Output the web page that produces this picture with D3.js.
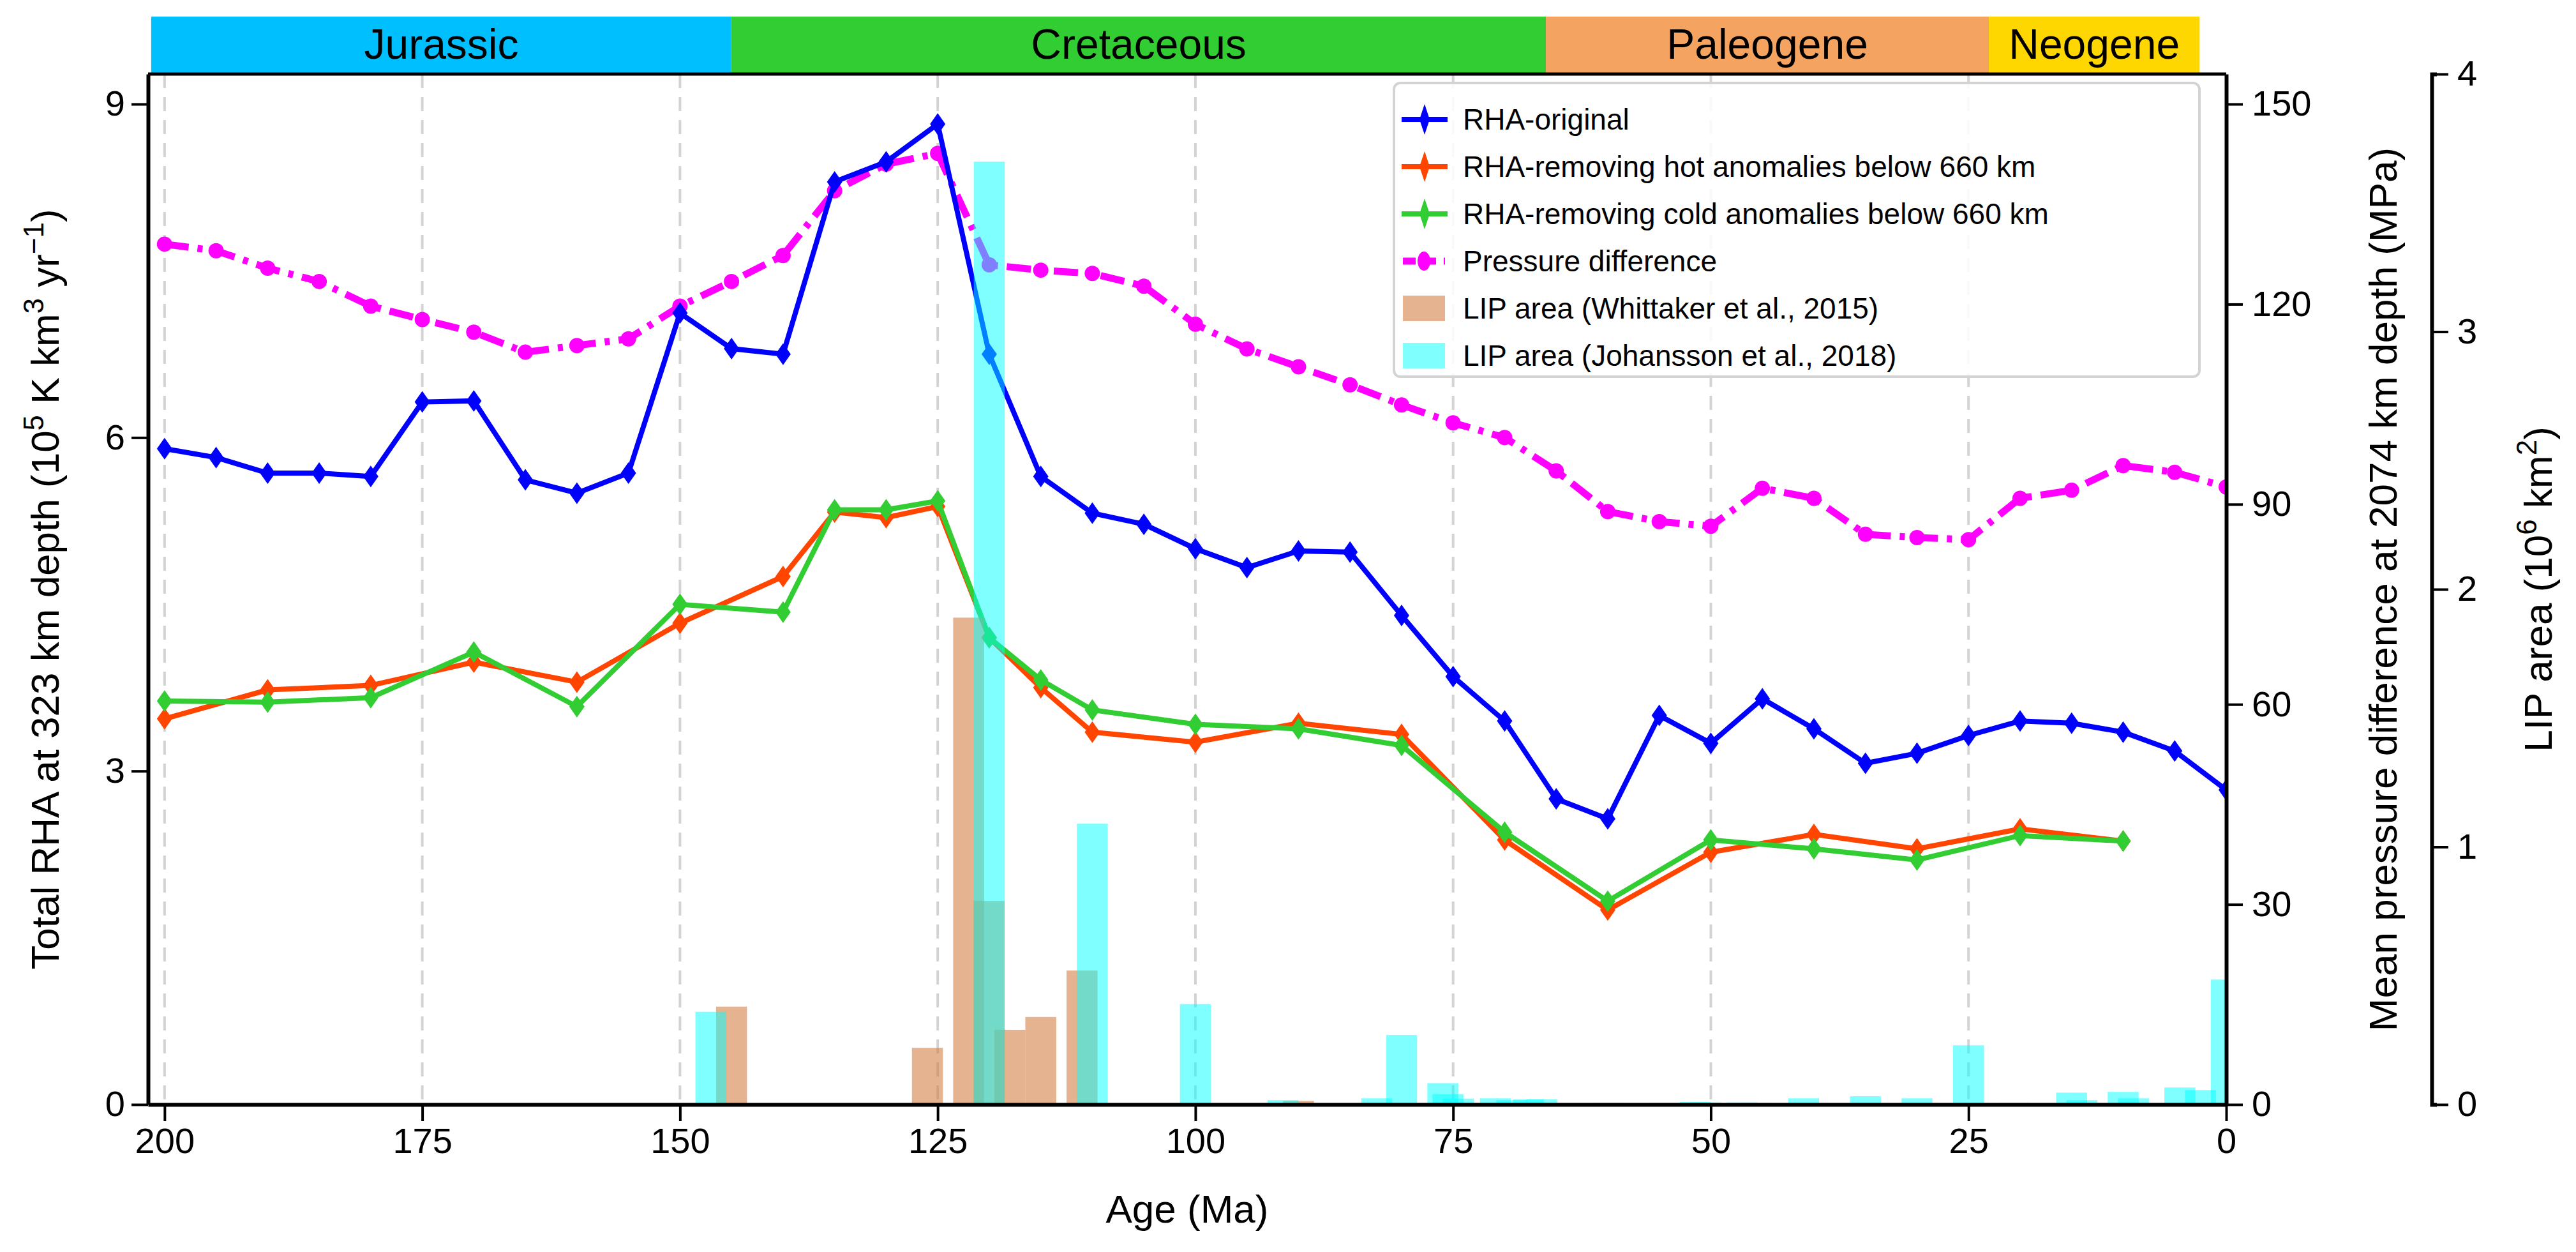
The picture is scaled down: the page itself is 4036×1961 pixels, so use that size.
<!DOCTYPE html>
<html><head><meta charset="utf-8">
<script src="https://cdn.jsdelivr.net/npm/d3@7"></script>
<style>
body{margin:0;background:#fff;}
text{font-family:"Liberation Sans",Arial,sans-serif;}
</style></head>
<body><svg id="chart" width="4036" height="1961"></svg>
<script>
var svg = d3.select("#chart");
// plot box in pixels
var marginLeft = 232, marginRight = 3488, marginTop = 116, marginBottom = 1730;
var lipAxisX = 3810;

// data
var ages = [200,195,190,185,180,175,170,165,160,155,150,145,140,135,130,125,120,115,110,105,100,95,90,85,80,75,70,65,60,55,50,45,40,35,30,25,20,15,10,5,0];
var rhaOriginal = [5.9,5.82,5.68,5.68,5.65,6.32,6.33,5.62,5.5,5.68,7.12,6.8,6.75,8.3,8.48,8.82,6.75,5.65,5.32,5.22,5.0,4.83,4.98,4.97,4.4,3.85,3.45,2.75,2.57,3.5,3.25,3.65,3.38,3.07,3.16,3.32,3.45,3.43,3.35,3.18,2.83];
var pressure = [129,128,125.4,123.4,119.7,117.7,115.8,112.8,113.8,114.8,119.7,123.4,127.3,137,141,142.6,125.9,125.1,124.6,122.7,117,113.3,110.6,107.9,104.9,102.2,100,95,88.9,87.4,86.7,92.4,90.9,85.5,85,84.7,90.9,92.1,95.8,94.8,92.6];
var agesRemoved = [200,190,180,170,160,150,140,135,130,125,120,115,110,100,90,80,70,60,50,40,30,20,10];
var rhaNoHot = [3.47,3.73,3.77,3.98,3.8,4.33,4.75,5.33,5.28,5.38,4.2,3.75,3.35,3.26,3.43,3.33,2.38,1.75,2.27,2.43,2.3,2.48,2.37];
var rhaNoCold = [3.63,3.62,3.66,4.07,3.58,4.5,4.43,5.35,5.35,5.43,4.2,3.82,3.55,3.42,3.38,3.23,2.45,1.83,2.38,2.3,2.2,2.42,2.37];
var lipWhitAges = [145,126,122,120,118,115,111,90];
var lipWhitArea = [0.38,0.22,1.89,0.79,0.29,0.34,0.52,0.014];
var lipJohAges = [147,120,110,100,91.5,82.4,80,76,75.5,74.5,70.9,69.3,67.7,66.4,60,54.5,51.5,50.5,47,45.5,41,35,30,25,20.5,15,14,10,9,4.5,2.5,0];
var lipJohArea = [0.36,3.66,1.09,0.39,0.017,0.024,0.27,0.083,0.04,0.023,0.024,0.017,0.02,0.02,0.006,0.006,0.01,0.008,0.008,0.006,0.024,0.032,0.024,0.23,0.006,0.046,0.017,0.049,0.024,0.066,0.056,0.485];
var periods = ["Jurassic","Cretaceous","Paleogene","Neogene"];
var periodStart = [201.3,145,66,23.03];
var periodEnd = [145,66,23.03,2.58];
var periodColors = ["#00BFFF","#32CD32","#F4A460","#FFD700"];
var xTicks = [200,175,150,125,100,75,50,25,0];

var x = d3.scaleLinear().domain([201.6,0]).range([marginLeft, marginRight]);
var yRha = d3.scaleLinear().domain([0,9.27]).range([marginBottom, marginTop]);
var yP = d3.scaleLinear().domain([0,154.5]).range([marginBottom, marginTop]);
var yLip = d3.scaleLinear().domain([0,4]).range([marginBottom, marginTop]);

svg.append("clipPath").attr("id","clip").append("rect")
  .attr("x",marginLeft).attr("y",marginTop).attr("width",marginRight-marginLeft).attr("height",marginBottom-marginTop);

// vertical dashed grid
svg.selectAll(".grid").data(xTicks.filter(function(d){return d>0;})).enter().append("line")
  .attr("x1",function(d){return x(d);}).attr("x2",function(d){return x(d);})
  .attr("y1",marginTop).attr("y2",marginBottom)
  .attr("stroke","#d3d3d3").attr("stroke-width",4).attr("stroke-dasharray","22,14");

// period bar
svg.selectAll(".period").data(periods).enter().append("rect")
  .attr("x",function(d,i){return x(periodStart[i]);})
  .attr("width",function(d,i){return x(periodEnd[i])-x(periodStart[i]);})
  .attr("y",26).attr("height",marginTop-26)
  .attr("fill",function(d,i){return periodColors[i];});
svg.selectAll(".periodLabel").data(periods).enter().append("text")
  .attr("x",function(d,i){return (x(periodStart[i])+x(periodEnd[i]))/2;})
  .attr("y",92).attr("text-anchor","middle").attr("font-size",66).text(function(d){return d;});

function diamondPath(cx,cy){ return "M"+cx+","+(cy-17)+"L"+(cx+12)+","+cy+"L"+cx+","+(cy+17)+"L"+(cx-12)+","+cy+"Z"; }

function drawSeries(xs, ys, scale, color, marker, dash){
  var g = svg.append("g").attr("clip-path","url(#clip)");
  var line = d3.line().x(function(d,i){return x(xs[i]);}).y(function(d){return scale(d);});
  g.append("path").datum(ys).attr("d",line).attr("fill","none")
    .attr("stroke",color).attr("stroke-width",dash?11:8).attr("stroke-dasharray",dash||null);
  if (marker=="diamond") {
    g.selectAll("path.m").data(ys).enter().append("path").attr("class","m")
      .attr("d",function(d,i){return diamondPath(x(xs[i]),scale(d));}).attr("fill",color);
  } else {
    g.selectAll("circle").data(ys).enter().append("circle")
      .attr("cx",function(d,i){return x(xs[i]);}).attr("cy",function(d){return scale(d);})
      .attr("r",12).attr("fill",color);
  }
}
drawSeries(ages, pressure, yP, "#FF00FF", "circle", "38,14,8,14");
drawSeries(ages, rhaOriginal, yRha, "#0000FF", "diamond");
drawSeries(agesRemoved, rhaNoHot, yRha, "#FF4500", "diamond");
drawSeries(agesRemoved, rhaNoCold, yRha, "#32CD32", "diamond");

// LIP bars (3 Myr wide)
var barG = svg.append("g").attr("clip-path","url(#clip)");
barG.selectAll(".whit").data(lipWhitArea).enter().append("rect")
  .attr("x",function(d,i){return x(lipWhitAges[i]+1.5);})
  .attr("width",function(d,i){return x(lipWhitAges[i]-1.5)-x(lipWhitAges[i]+1.5);})
  .attr("y",function(d){return yLip(d);}).attr("height",function(d){return marginBottom-yLip(d);})
  .attr("fill","rgb(214,128,70)").attr("fill-opacity",0.6);
barG.selectAll(".joh").data(lipJohArea).enter().append("rect")
  .attr("x",function(d,i){return x(lipJohAges[i]+1.5);})
  .attr("width",function(d,i){return x(lipJohAges[i]-1.5)-x(lipJohAges[i]+1.5);})
  .attr("y",function(d){return yLip(d);}).attr("height",function(d){return marginBottom-yLip(d);})
  .attr("fill","#00FFFF").attr("fill-opacity",0.5);

// axes
function styleAxis(g){
  g.selectAll("path").attr("stroke","#000").attr("stroke-width",6);
  g.selectAll("line").attr("stroke","#000").attr("stroke-width",4);
  g.selectAll("text").attr("font-size",56).attr("fill","#000");
}
svg.append("line").attr("x1",marginLeft).attr("x2",marginRight).attr("y1",marginTop).attr("y2",marginTop).attr("stroke","#000").attr("stroke-width",5);
svg.append("g").attr("transform","translate(0,"+marginBottom+")")
  .call(d3.axisBottom(x).tickValues(xTicks).tickSize(26).tickPadding(10).tickSizeOuter(0)).call(styleAxis);
svg.append("g").attr("transform","translate("+marginLeft+",0)")
  .call(d3.axisLeft(yRha).tickValues([0,3,6,9]).tickSize(26).tickPadding(10).tickSizeOuter(0)).call(styleAxis);
svg.append("g").attr("transform","translate("+marginRight+",0)")
  .call(d3.axisRight(yP).tickValues([0,30,60,90,120,150]).tickSize(26).tickPadding(14).tickSizeOuter(0)).call(styleAxis);
svg.append("g").attr("transform","translate("+lipAxisX+",0)")
  .call(d3.axisRight(yLip).tickValues([0,1,2,3,4]).tickFormat(d3.format("d")).tickSize(26).tickPadding(14).tickSizeOuter(8)).call(styleAxis);

// axis titles
svg.append("text").attr("x",(marginLeft+marginRight)/2).attr("y",1915).attr("text-anchor","middle").attr("font-size",62).text("Age (Ma)");
var lt = svg.append("text").attr("transform","translate(92,"+(marginTop+marginBottom)/2+") rotate(-90)")
  .attr("text-anchor","middle").attr("font-size",62);
lt.append("tspan").text("Total RHA at 323 km depth (10");
lt.append("tspan").attr("dy",-24).attr("font-size",44).text("5");
lt.append("tspan").attr("dy",24).text(" K km");
lt.append("tspan").attr("dy",-24).attr("font-size",44).text("3");
lt.append("tspan").attr("dy",24).text(" yr");
lt.append("tspan").attr("dy",-24).attr("font-size",44).text("\u22121");
lt.append("tspan").attr("dy",24).text(")");
svg.append("text").attr("transform","translate(3755,"+(marginTop+marginBottom)/2+") rotate(-90)")
  .attr("text-anchor","middle").attr("font-size",62).text("Mean pressure difference at 2074 km depth (MPa)");
var rt = svg.append("text").attr("transform","translate(3998,"+(marginTop+marginBottom)/2+") rotate(-90)")
  .attr("text-anchor","middle").attr("font-size",62);
rt.append("tspan").text("LIP area (10");
rt.append("tspan").attr("dy",-24).attr("font-size",44).text("6");
rt.append("tspan").attr("dy",24).text(" km");
rt.append("tspan").attr("dy",-24).attr("font-size",44).text("2");
rt.append("tspan").attr("dy",24).text(")");

// legend
var legendLabels = ["RHA-original","RHA-removing hot anomalies below 660 km","RHA-removing cold anomalies below 660 km","Pressure difference","LIP area (Whittaker et al., 2015)","LIP area (Johansson et al., 2018)"];
var legendColors = ["#0000FF","#FF4500","#32CD32","#FF00FF","rgb(230,179,144)","#80FFFF"];
var lg = svg.append("g").attr("transform","translate(2184,130)");
lg.append("rect").attr("width",1262).attr("height",460).attr("rx",10).attr("fill","#fff").attr("fill-opacity",0.85).attr("stroke","#d3d3d3").attr("stroke-width",4);
legendLabels.forEach(function(lab,i){
  var cy = 57 + i*74;
  var c = legendColors[i];
  if (i<3) {
    lg.append("line").attr("x1",12).attr("x2",84).attr("y1",cy).attr("y2",cy).attr("stroke",c).attr("stroke-width",8);
    lg.append("path").attr("d","M48,"+(cy-24)+"L56,"+cy+"L48,"+(cy+24)+"L40,"+cy+"Z").attr("fill",c);
  } else if (i==3) {
    lg.append("line").attr("x1",14).attr("x2",80).attr("y1",cy).attr("y2",cy).attr("stroke",c).attr("stroke-width",11).attr("stroke-dasharray","20,12");
    lg.append("ellipse").attr("cx",47).attr("cy",cy).attr("rx",10).attr("ry",15).attr("fill",c);
  } else {
    lg.append("rect").attr("x",14).attr("y",cy-20).attr("width",66).attr("height",40).attr("fill",c);
  }
  lg.append("text").attr("x",108).attr("y",cy+16).attr("font-size",46).text(lab);
});
</script>
</body></html>
